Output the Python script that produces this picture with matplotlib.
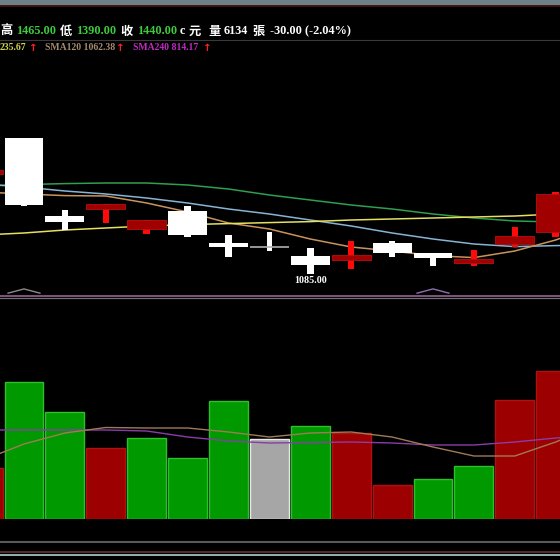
import numpy as np
import matplotlib
matplotlib.use("Agg")
import matplotlib.pyplot as plt
from matplotlib.lines import Line2D

# candles, index -1 .. 13 (open, high, low, close)
idx = np.arange(-1, 14)
opens  = [1585, 1765, 1375, 1410, 1310, 1400, 1240, 1220, 1175, 1155, 1240, 1190, 1140, 1235, 1295]
highs  = [1610, 1765, 1405, 1435, 1355, 1425, 1280, 1295, 1215, 1250, 1250, 1190, 1205, 1320, 1495]
lows   = [1580, 1425, 1305, 1340, 1285, 1270, 1170, 1200, 1085, 1110, 1170, 1125, 1125, 1220, 1270]
closes = [1605, 1430, 1345, 1435, 1355, 1280, 1220, 1220, 1130, 1180, 1190, 1165, 1160, 1275, 1485]
prev_close = 1560
volume = [2550, 6850, 5350, 3550, 4050, 3050, 5900, 4000, 4650, 4300, 1700, 2000, 2650, 5950, 7400]

# moving averages, index -1 .. 14
ma_idx = np.arange(-1, 15)
ma_green  = [1525, 1532, 1537, 1540, 1540, 1530, 1510, 1480, 1455, 1430, 1410, 1385, 1365, 1350, 1345, 1345]
ma_blue   = [1535, 1520, 1500, 1485, 1465, 1440, 1410, 1385, 1355, 1325, 1290, 1260, 1235, 1222, 1227, 1230]
ma_tan    = [1495, 1485, 1477, 1475, 1440, 1395, 1340, 1310, 1260, 1220, 1200, 1177, 1167, 1200, 1255, 1330]
ma_yellow = [1280, 1290, 1305, 1315, 1325, 1332, 1337, 1342, 1347, 1355, 1360, 1365, 1370, 1375, 1385, 1390]
vma_purple = [4450, 4450, 4450, 4450, 4400, 4100, 3900, 3800, 3825, 3850, 3800, 3700, 3700, 3850, 4050, 4150]
vma_brown  = [2950, 3750, 4300, 4575, 4550, 4550, 4350, 4100, 4300, 4350, 4100, 3600, 3150, 3150, 3850, 4700]

low_label = "1085.00"
peaks = [0, 10]

W = H = 560
fig = plt.figure(figsize=(5.6, 5.6), dpi=100, facecolor="black")

def fx(px):
    return px / W

def fy(py):
    return 1 - py / H

# header bands
fig.add_artist(plt.Rectangle((0, fy(4.5)), 1, 4.5 / H, transform=fig.transFigure, color="#6e8088", lw=0))
fig.add_artist(Line2D([0, 1], [fy(5.5), fy(5.5)], transform=fig.transFigure, color="#4a1a1a", lw=1.2))
fig.add_artist(Line2D([0, 1], [fy(39.5), fy(39.5)], transform=fig.transFigure, color="#3a3a3a", lw=0.8))

cjk = ["Noto Sans CJK TC", "DejaVu Sans"]
ser = ["Liberation Serif", "DejaVu Serif"]
row1 = [(0, "高", "white", cjk), (16, "1465.00", "#3ccc3c", ser), (60, "低", "white", cjk),
        (76, "1390.00", "#3ccc3c", ser), (120, "收", "white", cjk), (137, "1440.00", "#3ccc3c", ser),
        (180, "c", "white", ser), (189, "元", "white", cjk), (208, "量", "white", cjk),
        (224, "6134", "white", ser), (252, "張", "white", cjk), (270, "-30.00 (-2.04%)", "white", ser)]
for x, s, c, fam in row1:
    fig.text(fx(x), fy(31.5), s, color=c, family=fam, fontsize=8.8, fontweight="bold", va="center", ha="left")

row2 = [(0, "235.67", "#cfd24a"), (45, "SMA120 1062.38", "#a48a70"), (133, "SMA240 814.17", "#c02cc0")]
for x, s, c in row2:
    fig.text(fx(x), fy(48), s, color=c, family=ser, fontsize=7,
             fontweight="bold", va="center", ha="left")
for x in [29, 116, 203]:
    fig.text(fx(x), fy(48), "↑", color="#ff2020", family="DejaVu Sans", fontsize=7.5,
             fontweight="bold", va="center", ha="left")

# price panel
ax = fig.add_axes([0, fy(296), 1, 236 / H])
ax.set_facecolor("black")
ax.set_xlim(-24 / 40.9, (W - 24) / 40.9)
ax.set_ylim(975, 2155)
ax.axis("off")

for x, y, c in [(ma_idx, ma_green, "#2f9e4e"), (ma_idx, ma_blue, "#86b4d4"),
                (ma_idx, ma_tan, "#c8945c"), (ma_idx, ma_yellow, "#e4e060")]:
    ax.plot(x, y, color=c, lw=1.1)

bw = 0.95
for i, o, h, l, c in zip(idx, opens, highs, lows, closes):
    if c > o:
        ax.bar(i, h - l, bottom=l, width=0.16, color="#ff0a0a", lw=0, zorder=3)
        ax.bar(i, c - o, bottom=o, width=bw, color="#a00000", edgecolor="#b81010", lw=0.6, zorder=4)
    elif c < o:
        ax.bar(i, h - l, bottom=l, width=0.16, color="white", lw=0, zorder=3)
        ax.bar(i, o - c, bottom=c, width=bw, color="white", lw=0, zorder=4)
    else:
        ax.bar(i, h - l, bottom=l, width=0.12, color="white", lw=0, zorder=3)
        ax.hlines(o, i - bw / 2, i + bw / 2, color="#b0b0b0", lw=1.2, zorder=4)

k = int(np.argmin(lows))
ax.annotate(low_label, (idx[k], lows[k]), xytext=(0, -5), textcoords="offset points",
            ha="center", va="center", color="white", family=ser, fontsize=7.2, fontweight="bold")

for p, c in zip(peaks, ["#8a8a8a", "#9070b0"]):
    ax.plot([p - 0.39, p, p + 0.39], [0.012, 0.03, 0.012], transform=ax.get_xaxis_transform(),
            color=c, lw=1)

fig.add_artist(Line2D([0, 1], [fy(295.5), fy(295.5)], transform=fig.transFigure, color="#8a5a8a", lw=1.3))
fig.add_artist(Line2D([0, 1], [fy(297.8), fy(297.8)], transform=fig.transFigure, color="#707070", lw=0.9))

# volume panel
vx = fig.add_axes([0, fy(519), 1, 189 / H])
vx.set_facecolor("black")
vx.set_xlim(-24 / 40.9, (W - 24) / 40.9)
vx.set_ylim(0, 9450)
vx.axis("off")
prev = [prev_close] + closes[:-1]
for i, p, c, v in zip(idx, prev, closes, volume):
    if c > p:
        fc, ec = "#9c0000", "#b01010"
    elif c < p:
        fc, ec = "#009a00", "#2cc02c"
    else:
        fc, ec = "#a6a6a6", "#e8e8e8"
    vx.bar(i, v, width=bw, color=fc, edgecolor=ec, lw=1)
vx.plot(ma_idx, vma_purple, color="#8a3ca8", lw=1)
vx.plot(ma_idx, vma_brown, color="#a07a58", lw=1)

fig.add_artist(Line2D([0, 1], [fy(541.5), fy(541.5)], transform=fig.transFigure, color="#5a5a5a", lw=1.5))
fig.add_artist(Line2D([0, 1], [fy(552), fy(552)], transform=fig.transFigure, color="#6a3434", lw=1.2))
fig.add_artist(Line2D([0, 1], [fy(555), fy(555)], transform=fig.transFigure, color="#a8d4d4", lw=1.2))

fig.savefig("out.png", dpi=100, facecolor="black")
